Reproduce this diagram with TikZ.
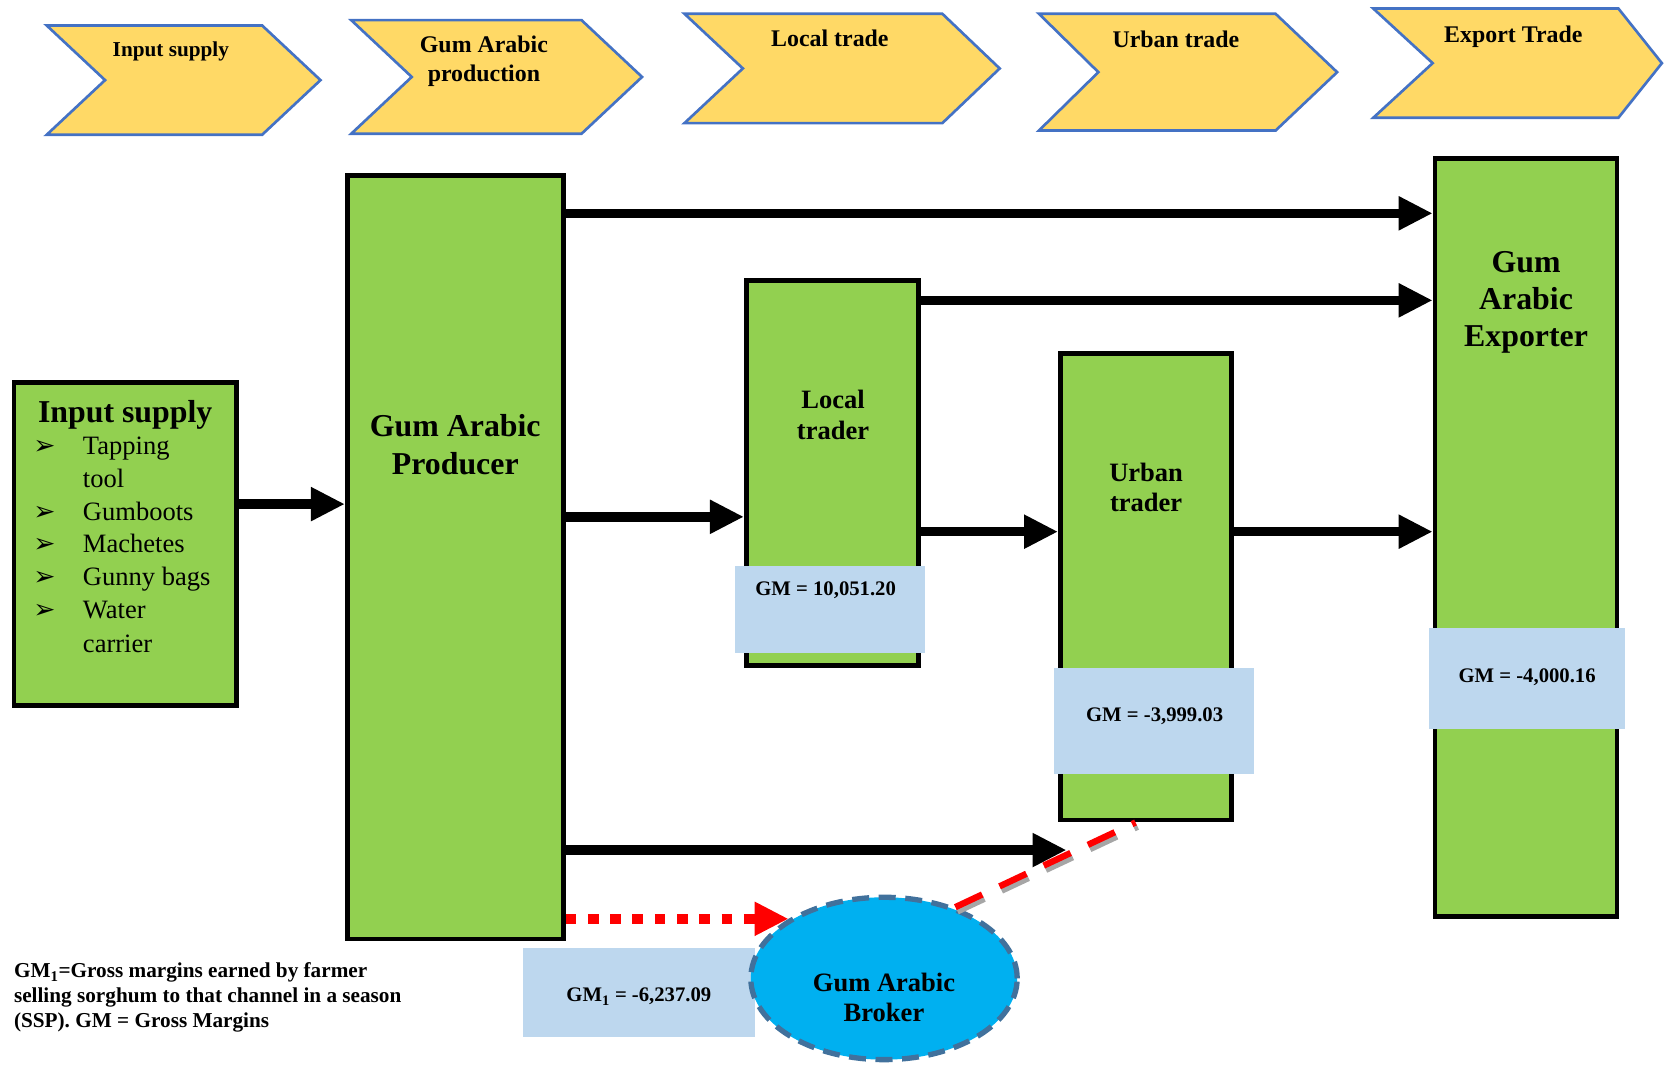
\documentclass[tikz,border=0pt]{standalone}
\usepackage{fontspec}
\setmainfont{Liberation Serif}
\newfontfamily\symfont{DejaVu Sans}
\usetikzlibrary{arrows.meta,shapes.geometric}

\definecolor{leaf}{HTML}{92D050}
\definecolor{chevfill}{HTML}{FFD966}
\definecolor{chevline}{HTML}{4472C4}
\definecolor{gmfill}{HTML}{BDD7EE}
\definecolor{brokerfill}{HTML}{00B0F0}
\definecolor{brokerline}{HTML}{41719C}
\definecolor{linkred}{HTML}{FF0000}

\newcommand\fsz[2]{\fontsize{#1}{#2}\selectfont}

\begin{document}
\begin{tikzpicture}[x=1pt,y=-1pt,
  chev/.style={draw=chevline, fill=chevfill, line width=2.5pt, line join=miter},
  stagetext/.style={font=\bfseries\fsz{22.5}{27}, inner sep=0pt, anchor=base, align=center},
  actor/.style={draw=black, fill=leaf, line width=4.5pt, inner sep=0pt},
  actortext/.style={font=\bfseries\fsz{30}{35}, inner sep=0pt, align=center},
  smalltext/.style={font=\bfseries\fsz{25}{30}, inner sep=0pt, align=center},
  listtext/.style={font=\fsz{25}{31}, inner sep=0pt, anchor=base west},
  bullet/.style={font=\symfont\fsz{25}{28}, inner sep=0pt, anchor=base},
  gmbox/.style={fill=gmfill, inner sep=0pt},
  gmtext/.style={font=\bfseries\fsz{19.5}{23}, inner sep=0pt, anchor=base},
  flow/.style={draw=black, line width=9pt, -{Triangle[length=32pt,width=30pt]}},
  dotflow/.style={draw=linkred, line width=10pt, dash pattern=on 10pt off 11pt,
    -{Triangle[length=32pt,width=30pt,fill=linkred]}},
  brokerlink/.style={draw=linkred, line width=6pt, dash pattern=on 28pt off 18pt},
  brokershadow/.style={draw=black!35, line width=6pt, dash pattern=on 28pt off 18pt,
    transform canvas={xshift=2pt,yshift=-4pt}},
  note/.style={font=\bfseries\fsz{20}{23.5}, inner sep=0pt, anchor=north west, align=left}
]
\useasboundingbox (0,0) rectangle (1568,1005);

% value chain stages
\draw[chev] (44,24) -- (247,24) -- (302,75.5) -- (247,127) -- (44,127) -- (99,75.5) -- cycle;
\draw[chev] (331,19) -- (548,19) -- (605,72.5) -- (548,126) -- (331,126) -- (388,72.5) -- cycle;
\draw[chev] (645,13) -- (888,13) -- (942,64.5) -- (888,116) -- (645,116) -- (700,64.5) -- cycle;
\draw[chev] (979,13) -- (1202,13) -- (1260,68) -- (1202,123) -- (979,123) -- (1035,68) -- cycle;
\draw[chev] (1294,8) -- (1525,8) -- (1566,59.5) -- (1525,111) -- (1294,111) -- (1350,59.5) -- cycle;

\node[stagetext, font=\bfseries\fsz{20}{24}] (s1) at (161,53) {Input supply};
\node[stagetext, anchor=center] (s2) at (456,58) {Gum Arabic\\production};
\node[stagetext] (s3) at (782,44) {Local trade};
\node[stagetext] (s4) at (1108,45) {Urban trade};
\node[stagetext] (s5) at (1426,40) {Export Trade};

% market actors
\node[actor, minimum width=209.5pt, minimum height=304.5pt] (inp) at (118,512.5) {};
\node[actor, minimum width=203.5pt, minimum height=719.5pt] (prod) at (429,525) {};
\node[actor, minimum width=162.5pt, minimum height=362.5pt] (loc) at (784.5,445.5) {};
\node[actor, minimum width=161.5pt, minimum height=439.5pt] (urb) at (1080,553) {};
\node[actor, minimum width=171.5pt, minimum height=714.5pt] (exp) at (1438,506.5) {};

% gross margin panels
\node[gmbox, minimum width=179pt, minimum height=82pt] (gmloc) at (782.5,574) {};
\node[gmbox, minimum width=189pt, minimum height=100pt] (gmurb) at (1087.5,679) {};
\node[gmbox, minimum width=184pt, minimum height=95pt] (gmexp) at (1439,639.5) {};
\node[gmbox, minimum width=218pt, minimum height=84pt] (gmprod) at (602,935) {};

\node[gmtext] (gmloct) at (778,561) {GM = 10,051.20};
\node[gmtext] (gmurbt) at (1088,680) {GM = -3,999.03};
\node[gmtext] (gmexpt) at (1439,643) {GM = -4,000.16};
\node[gmtext] (gmprodt) at (602,944) {GM\textsubscript{1} = -6,237.09};

% actor labels
\node[actortext] (prodt) at (429,419) {Gum Arabic\\Producer};
\node[actortext] (expt) at (1438,285) {Gum\\Arabic\\Exporter};
\node[smalltext] (loct) at (785,391) {Local\\trader};
\node[smalltext, font=\bfseries\fsz{25}{28}] (urbt) at (1080,459) {Urban\\trader};

% input list
\node[font=\bfseries\fsz{30}{35}, inner sep=0pt, anchor=base] (inpt) at (118,398) {Input supply};
\node[bullet] (b1) at (42,428) {➢};
\node[listtext] (l1) at (78,428) {Tapping};
\node[listtext] (l2) at (78,459) {tool};
\node[bullet] (b3) at (42,490) {➢};
\node[listtext] (l3) at (78,490) {Gumboots};
\node[bullet] (b4) at (42,521) {➢};
\node[listtext] (l4) at (78,521) {Machetes};
\node[bullet] (b5) at (42,552) {➢};
\node[listtext] (l5) at (78,552) {Gunny bags};
\node[bullet] (b6) at (42,583) {➢};
\node[listtext] (l6) at (78,583) {Water};
\node[listtext] (l7) at (78,615) {carrier};

% product flows
\draw[flow] (inp.east |- 0,475) -- (prod.west |- 0,475);
\draw[flow] (prod.east |- 0,201) -- (exp.west |- 0,201);
\draw[flow] (loc.east |- 0,283) -- (exp.west |- 0,283);
\draw[flow] (prod.east |- 0,487) -- (loc.west |- 0,487);
\draw[flow] (loc.east |- 0,501) -- (urb.west |- 0,501);
\draw[flow] (urb.east |- 0,501) -- (exp.west |- 0,501);
\coordinate (urbin) at (1005,801);
\draw[flow] (prod.east |- urbin) -- (urbin);

% broker
\node[ellipse, draw=brokerline, fill=brokerfill, line width=5pt,
  dash pattern=on 16pt off 9pt, minimum width=251pt, minimum height=153pt,
  inner sep=0pt] (brk) at (833,922) {};
\node[smalltext, font=\bfseries\fsz{25}{28}] (brkt) at (833,940) {Gum Arabic\\Broker};

\draw[dotflow] (prod.east |- brk.148) -- (brk.148);
\draw[brokershadow] (brk.45) -- ([xshift=-10pt]urb.south);
\draw[brokerlink] (brk.45) -- ([xshift=-10pt]urb.south);

% legend
\node[note] (foot) at (13,907) {GM\textsubscript{1}=Gross margins earned by farmer\\selling sorghum to that channel in a season\\(SSP). GM = Gross Margins};
\end{tikzpicture}
\end{document}
